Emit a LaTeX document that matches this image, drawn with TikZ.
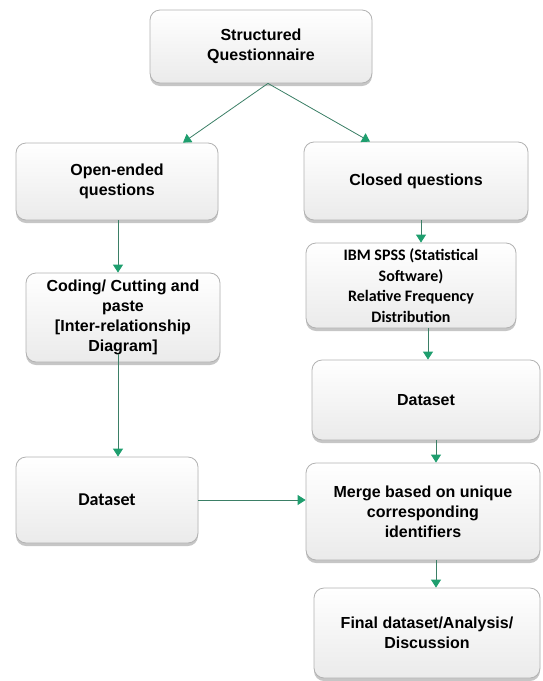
\documentclass[tikz,border=0pt]{standalone}
\usepackage{fontspec}
\setmainfont{Liberation Sans}
\newfontfamily\calibri{Carlito}
\usetikzlibrary{arrows.meta,shadows}
\definecolor{flowline}{HTML}{3B7F66}
\definecolor{flowtip}{HTML}{1E9E6E}
\tikzset{
    box/.style={rounded corners=10pt, draw=gray!60, line width=0.8pt,
        top color=white, bottom color=gray!16, inner sep=0pt,
        align=center, font=\bfseries\fontsize{16}{20}\selectfont,
        drop shadow={shadow xshift=0pt, shadow yshift=-3pt, opacity=0.45}},
    flow/.style={draw=flowline, line width=0.8pt,
        -{Triangle[width=10pt,length=8pt,fill=flowtip,color=flowtip]}},
}

\begin{document}
\begin{tikzpicture}[x=1pt,y=-1pt]
	\useasboundingbox (0,0) rectangle (543,681);
	% boxes
	\node[box, minimum width=222, minimum height=73] (sq) at (261,46.5) {Structured\\Questionnaire};
	\node[box, minimum width=202, minimum height=77] (open) at (117,181.5) {Open-ended\\questions};
	\node[box, minimum width=224, minimum height=78] (closed) at (416,181) {Closed questions};
	\node[box, minimum width=194, minimum height=89] (coding) at (123,317.5) {Coding/ Cutting and\\paste\\{[}Inter-relationship\\Diagram{]}};
	\node[box, minimum width=210, minimum height=85, font=\calibri\bfseries\fontsize{16}{20.5}\selectfont] (spss) at (411,285.5) {IBM SPSS (Statistical\\Software)\\Relative Frequency\\Distribution};
	\node[box, minimum width=228, minimum height=80] (dr) at (426,400) {Dataset};
	\node[box, minimum width=182, minimum height=86, font=\calibri\bfseries\fontsize{18}{20}\selectfont] (dl) at (107,500) {Dataset};
	\node[box, minimum width=234, minimum height=97] (merge) at (423,511.5) {Merge based on unique\\corresponding\\identifiers};
	\node[box, minimum width=226, minimum height=90] (final) at (427,633) {Final dataset/Analysis/\\Discussion};
	% connectors
	\draw[flow] ([xshift=7]sq.south) -- ([xshift=66]open.north);
	\draw[flow] ([xshift=7]sq.south) -- ([xshift=-46]closed.north);
	\draw[flow] ([xshift=1]open.south) -- ([xshift=1]open.south |- coding.north);
	\draw[flow] ([xshift=5]closed.south) -- ([xshift=5]closed.south |- spss.north);
	\draw[flow] ([xshift=17]spss.south) -- ([xshift=17]spss.south |- dr.north);
	\draw[flow] ([xshift=-5,yshift=8]coding.south) -- ([xshift=-5]coding.south |- dl.north);
	\draw[flow] ([xshift=10]dr.south) -- ([xshift=10]dr.south |- merge.north);
	\draw[flow] (dl.east) -- (dl.east -| merge.west);
	\draw[flow] ([xshift=13]merge.south) -- ([xshift=13]merge.south |- final.north);
\end{tikzpicture}
\end{document}
